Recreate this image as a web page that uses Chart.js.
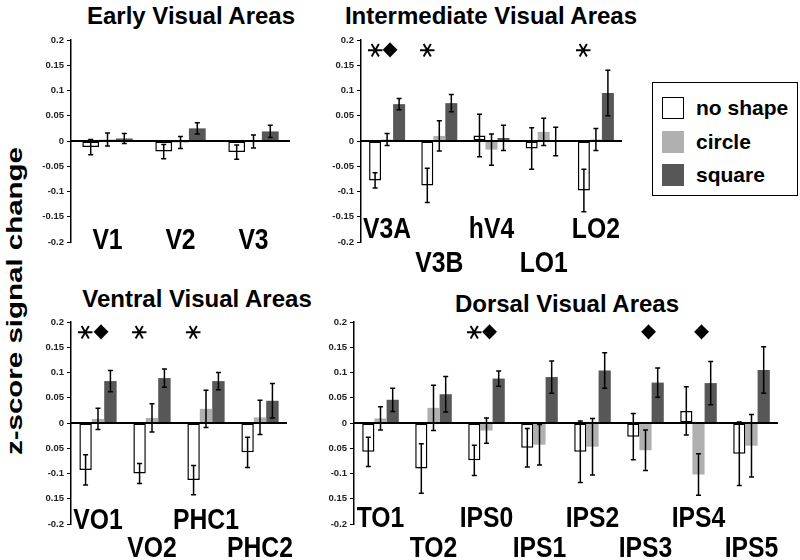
<!DOCTYPE html>
<html><head><meta charset="utf-8">
<script src="https://cdn.jsdelivr.net/npm/chart.js@4"></script>
<style>
body{margin:0;width:800px;height:560px;position:relative;background:#fff;overflow:hidden;font-family:'Liberation Sans',Arial,sans-serif;}
.panel{position:absolute;}
.title{position:absolute;font-weight:bold;font-size:24px;line-height:24px;white-space:nowrap;transform:translateX(-50%);color:#000;}
#ylab{position:absolute;left:15px;top:301px;font-weight:bold;font-size:22px;line-height:22px;white-space:nowrap;transform:translate(-50%,-50%) rotate(-90deg) scale(1.34,1);}
#legend{position:absolute;left:652px;top:82px;width:146px;height:114px;box-sizing:border-box;border:1.5px solid #000;}
.sw{position:absolute;left:9px;width:22px;height:22px;box-sizing:border-box;}
.lt{position:absolute;left:43px;font-weight:bold;font-size:21px;line-height:22px;white-space:nowrap;}
</style></head>
<body>
<div class="title" style="left:191px;top:4px">Early Visual Areas</div>
<div class="title" style="left:491px;top:4px">Intermediate Visual Areas</div>
<div class="title" style="left:197px;top:287px">Ventral Visual Areas</div>
<div class="title" style="left:567px;top:292px">Dorsal Visual Areas</div>
<div id="ylab">z-score signal change</div>
<div class="panel" style="left:26px;top:30px;width:269px;height:250px"><canvas id="c1"></canvas></div>
<div class="panel" style="left:316px;top:30px;width:311px;height:250px"><canvas id="c2"></canvas></div>
<div class="panel" style="left:26px;top:312px;width:266px;height:248px"><canvas id="c3"></canvas></div>
<div class="panel" style="left:309px;top:312px;width:474px;height:248px"><canvas id="c4"></canvas></div>
<div id="legend">
  <div class="sw" style="top:14px;background:#fff;border:1.5px solid #000"></div><div class="lt" style="top:14px">no shape</div>
  <div class="sw" style="top:48px;background:#b0b0b0"></div><div class="lt" style="top:48px">circle</div>
  <div class="sw" style="top:81px;background:#575757"></div><div class="lt" style="top:81px">square</div>
</div>
<script>
// ---------- data ----------
const seriesNames = ['no shape','circle','square'];
const ticksNormal = ['-0.2','-0.15','-0.1','-0.05','0','0.05','0.1','0.15','0.2'];
const ticksLower  = ['-0.2','0.15','-0.1','0.05','0','0.05','0.1','0.15','0.2'];

const earlyCats = ['V1','V2','V3'];
const earlyNoShape = [-0.012,-0.021,-0.022];
const earlyNoShapeErr = [0.015,0.014,0.014];
const earlyCircle = [0.003,-0.003,-0.001];
const earlyCircleErr = [0.013,0.012,0.013];
const earlySquare = [0.005,0.025,0.019];
const earlySquareErr = [0.010,0.011,0.012];
const earlyStar = [0,0,0];
const earlyDiamond = [0,0,0];

const interCats = ['V3A','V3B','hV4','LO1','LO2'];
const interNoShape = [-0.078,-0.088,0.011,-0.015,-0.098];
const interNoShapeErr = [0.015,0.034,0.042,0.041,0.042];
const interCircle = [0.003,0.010,-0.017,0.018,0.003];
const interCircleErr = [0.012,0.030,0.031,0.027,0.022];
const interSquare = [0.073,0.075,0.006,-0.001,0.095];
const interSquareErr = [0.011,0.017,0.025,0.028,0.045];
const interStar = [1,1,0,0,1];
const interDiamond = [1,0,0,0,0];

const ventCats = ['VO1','VO2','PHC1','PHC2'];
const ventNoShape = [-0.093,-0.100,-0.113,-0.058];
const ventNoShapeErr = [0.030,0.020,0.029,0.030];
const ventCircle = [0.008,0.010,0.028,0.011];
const ventCircleErr = [0.021,0.028,0.037,0.034];
const ventSquare = [0.083,0.089,0.083,0.044];
const ventSquareErr = [0.021,0.018,0.017,0.034];
const ventStar = [1,1,1,0];
const ventDiamond = [1,0,0,0];

const dorsCats = ['TO1','TO2','IPS0','IPS1','IPS2','IPS3','IPS4','IPS5'];
const dorsNoShape = [-0.057,-0.090,-0.074,-0.049,-0.057,-0.027,0.024,-0.061];
const dorsNoShapeErr = [0.029,0.049,0.030,0.038,0.061,0.046,0.048,0.063];
const dorsCircle = [0.009,0.030,-0.015,-0.043,-0.047,-0.054,-0.102,-0.045];
const dorsCircleErr = [0.023,0.045,0.025,0.040,0.056,0.040,0.041,0.062];
const dorsSquare = [0.046,0.057,0.088,0.091,0.104,0.080,0.079,0.105];
const dorsSquareErr = [0.023,0.035,0.015,0.032,0.035,0.029,0.043,0.046];
const dorsStar = [0,0,1,0,0,0,0,0];
const dorsDiamond = [0,0,1,0,0,1,1,0];

// ---------- drawing ----------
const FONT = "'Liberation Sans', Arial, sans-serif";
function glyph(ctx, ch, font, cx, cy, tw, th, rot){
  ctx.save();
  ctx.font = font; ctx.textAlign='left'; ctx.textBaseline='alphabetic';
  const m = ctx.measureText(ch);
  const w = m.actualBoundingBoxLeft + m.actualBoundingBoxRight;
  const h = m.actualBoundingBoxAscent + m.actualBoundingBoxDescent;
  ctx.translate(cx, cy);
  if (rot) ctx.rotate(rot);
  ctx.scale(tw / w, th / h);
  const xc = (m.actualBoundingBoxRight - m.actualBoundingBoxLeft) / 2;
  const yc = (m.actualBoundingBoxDescent - m.actualBoundingBoxAscent) / 2;
  ctx.fillStyle = '#000';
  ctx.fillText(ch, -xc, -yc);
  ctx.restore();
}

const decor = {
  id: 'decor',
  afterDatasetsDraw(chart, args, o) {
    const ctx = chart.ctx, y = chart.scales.y, a = chart.chartArea;
    ctx.save();
    const y0 = y.getPixelForValue(0);
    ctx.strokeStyle = '#000'; ctx.lineWidth = 1.8;
    ctx.beginPath(); ctx.moveTo(a.left, y0); ctx.lineTo(a.right, y0); ctx.stroke();
    ctx.lineWidth = 1.5;
    chart.data.datasets.forEach((ds, di) => {
      const meta = chart.getDatasetMeta(di);
      meta.data.forEach((el, i) => {
        const v = ds.data[i], e = ds.err[i];
        const yt = y.getPixelForValue(v + e), yb = y.getPixelForValue(v - e);
        ctx.beginPath();
        ctx.moveTo(el.x, yt); ctx.lineTo(el.x, yb);
        ctx.moveTo(el.x - 2.5, yt); ctx.lineTo(el.x + 2.5, yt);
        ctx.moveTo(el.x - 2.5, yb); ctx.lineTo(el.x + 2.5, yb);
        ctx.stroke();
      });
    });
    ctx.restore();
    const ym = y.getPixelForValue(o.markLevel);
    const m0 = chart.getDatasetMeta(0), m1 = chart.getDatasetMeta(1);
    o.stars.forEach((s, i) => {
      if (s) glyph(ctx, '\u2217', 'normal 40px DejaVu Sans', m0.data[i].x, ym, 14, 15, Math.PI / 2);
    });
    o.diamonds.forEach((d, i) => {
      if (d) glyph(ctx, '\u25C6', 'normal 30px DejaVu Sans', m1.data[i].x + 3, ym, 15, 16, 0);
    });
  },
  afterDraw(chart, args, o) {
    const ctx = chart.ctx, x = chart.scales.x, a = chart.chartArea;
    ctx.save();
    ctx.fillStyle = '#000';
    ctx.font = 'bold 24px ' + FONT;
    ctx.textAlign = 'center'; ctx.textBaseline = 'middle';
    chart.data.labels.forEach((lab, i) => {
      const cx = x.getPixelForValue(i);
      const cy = a.bottom + o.rows[i % 2];
      ctx.save(); ctx.translate(cx, cy); ctx.scale(1.03, 1.2);
      ctx.fillText(lab, 0, 1);
      ctx.restore();
    });
    ctx.restore();
  }
};

function makePanel(id, cats, vals, errs, stars, diamonds, tickLabels, rows, pad) {
  const colors = ['#ffffff', '#b0b0b0', '#575757'];
  new Chart(document.getElementById(id), {
    type: 'bar',
    data: {
      labels: cats,
      datasets: vals.map((v, k) => ({
        label: seriesNames[k], data: v, err: errs[k],
        backgroundColor: colors[k],
        borderColor: k === 0 ? '#000' : colors[k],
        borderWidth: k === 0 ? 1.5 : 0,
        borderSkipped: false,
        categoryPercentage: 0.69, barPercentage: 1.0
      }))
    },
    options: {
      responsive: true, maintainAspectRatio: false, animation: false,
      layout: { padding: pad },
      plugins: {
        legend: { display: false }, tooltip: { enabled: false },
        decor: { stars: stars, diamonds: diamonds, rows: rows, markLevel: 0.18 }
      },
      scales: {
        x: { display: false },
        y: {
          min: -0.2, max: 0.2,
          ticks: { stepSize: 0.05, callback: (v, i) => tickLabels[i], padding: 3,
                   color: '#222', font: { family: FONT, size: 9.5, weight: 'bold' } },
          grid: { drawOnChartArea: false, tickLength: 4, tickColor: '#000', tickWidth: 1 },
          border: { color: '#000', width: 1.5 },
          afterFit: s => { s.width = 45; }
        }
      }
    },
    plugins: [decor]
  });
}

makePanel('c1', earlyCats, [earlyNoShape, earlyCircle, earlySquare],
  [earlyNoShapeErr, earlyCircleErr, earlySquareErr], earlyStar, earlyDiamond,
  ticksNormal, [-2, -2], { top: 10, bottom: 38, right: 5, left: 0 });
makePanel('c2', interCats, [interNoShape, interCircle, interSquare],
  [interNoShapeErr, interCircleErr, interSquareErr], interStar, interDiamond,
  ticksNormal, [-13, 21], { top: 10, bottom: 38, right: 5, left: 0 });
makePanel('c3', ventCats, [ventNoShape, ventCircle, ventSquare],
  [ventNoShapeErr, ventCircleErr, ventSquareErr], ventStar, ventDiamond,
  ticksLower, [-4, 24], { top: 10, bottom: 36, right: 5, left: 0 });
makePanel('c4', dorsCats, [dorsNoShape, dorsCircle, dorsSquare],
  [dorsNoShapeErr, dorsCircleErr, dorsSquareErr], dorsStar, dorsDiamond,
  ticksLower, [-6, 24], { top: 10, bottom: 36, right: 5, left: 0 });
</script>
</body></html>
